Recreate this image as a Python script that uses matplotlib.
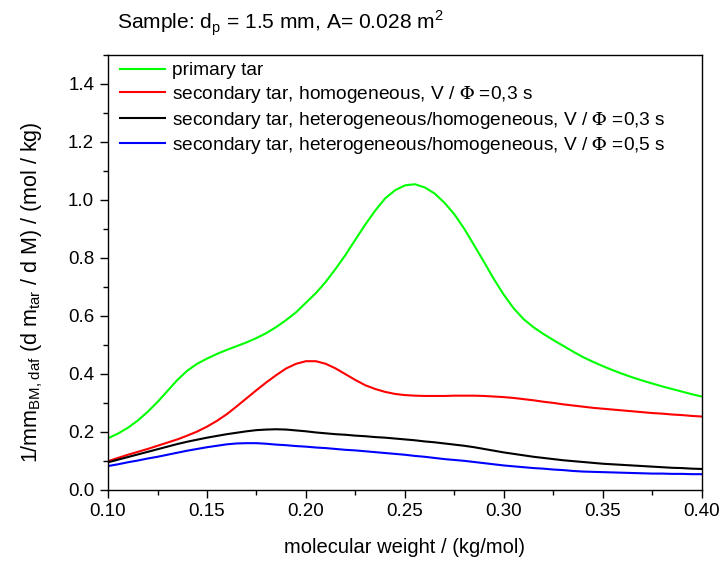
import matplotlib
matplotlib.use("Agg")
import matplotlib.pyplot as plt
from matplotlib.ticker import MultipleLocator, FormatStrFormatter
from matplotlib.font_manager import FontProperties

plt.rcParams['font.family'] = ['Liberation Sans', 'DejaVu Sans']
plt.rcParams['mathtext.fontset'] = 'custom'
plt.rcParams['mathtext.rm'] = 'Liberation Sans'

# molecular weight / (kg/mol)
mw = [0.100, 0.105, 0.110, 0.115, 0.120, 0.125, 0.130, 0.135, 0.140, 0.145,
      0.150, 0.155, 0.160, 0.165, 0.170, 0.175, 0.180, 0.185, 0.190, 0.195,
      0.200, 0.205, 0.210, 0.215, 0.220, 0.225, 0.230, 0.235, 0.240, 0.245,
      0.250, 0.255, 0.260, 0.265, 0.270, 0.275, 0.280, 0.285, 0.290, 0.295,
      0.300, 0.305, 0.310, 0.315, 0.320, 0.325, 0.330, 0.335, 0.340, 0.345,
      0.350, 0.355, 0.360, 0.365, 0.370, 0.375, 0.380, 0.385, 0.390, 0.395,
      0.400]

primary = [0.177, 0.193, 0.213, 0.238, 0.268, 0.302, 0.340, 0.378, 0.410, 0.434,
           0.452, 0.468, 0.482, 0.495, 0.508, 0.523, 0.540, 0.561, 0.585, 0.612,
           0.645, 0.678, 0.717, 0.762, 0.810, 0.863, 0.915, 0.963, 1.005, 1.033,
           1.050, 1.054, 1.043, 1.022, 0.990, 0.950, 0.900, 0.843, 0.785, 0.726,
           0.672, 0.625, 0.588, 0.560, 0.537, 0.516, 0.496, 0.476, 0.457, 0.441,
           0.426, 0.412, 0.399, 0.387, 0.376, 0.366, 0.356, 0.347, 0.338, 0.329,
           0.321]

sec_homog = [0.098, 0.109, 0.120, 0.130, 0.140, 0.151, 0.162, 0.173, 0.186, 0.200,
             0.217, 0.237, 0.260, 0.287, 0.315, 0.343, 0.370, 0.395, 0.418, 0.434,
             0.443, 0.443, 0.434, 0.418, 0.398, 0.378, 0.360, 0.347, 0.337, 0.330,
             0.326, 0.324, 0.323, 0.323, 0.323, 0.324, 0.324, 0.324, 0.323, 0.321,
             0.319, 0.316, 0.312, 0.308, 0.303, 0.299, 0.294, 0.290, 0.286, 0.282,
             0.279, 0.276, 0.273, 0.270, 0.267, 0.264, 0.262, 0.259, 0.257, 0.254,
             0.252]

sec_het_03 = [0.094, 0.103, 0.112, 0.121, 0.130, 0.139, 0.148, 0.157, 0.165, 0.172,
              0.179, 0.185, 0.191, 0.196, 0.201, 0.205, 0.207, 0.208, 0.207, 0.204,
              0.201, 0.197, 0.194, 0.191, 0.189, 0.186, 0.184, 0.181, 0.179, 0.176,
              0.173, 0.170, 0.166, 0.163, 0.159, 0.155, 0.151, 0.146, 0.140, 0.134,
              0.128, 0.123, 0.118, 0.113, 0.109, 0.105, 0.101, 0.098, 0.095, 0.092,
              0.089, 0.087, 0.085, 0.083, 0.081, 0.079, 0.077, 0.075, 0.074, 0.072,
              0.071]

sec_het_05 = [0.081, 0.087, 0.094, 0.100, 0.107, 0.113, 0.120, 0.127, 0.134, 0.140,
              0.146, 0.151, 0.156, 0.159, 0.160, 0.160, 0.158, 0.155, 0.153, 0.150,
              0.148, 0.145, 0.143, 0.140, 0.137, 0.135, 0.132, 0.129, 0.126, 0.123,
              0.120, 0.116, 0.113, 0.109, 0.105, 0.102, 0.099, 0.095, 0.091, 0.087,
              0.083, 0.080, 0.077, 0.074, 0.072, 0.069, 0.067, 0.064, 0.062, 0.061,
              0.060, 0.059, 0.058, 0.057, 0.056, 0.055, 0.055, 0.054, 0.054, 0.053,
              0.053]

labels = ['primary tar',
          r'secondary tar, homogeneous, V / $\Phi$ =0,3 s',
          r'secondary tar, heterogeneous/homogeneous, V / $\Phi$ =0,3 s',
          r'secondary tar, heterogeneous/homogeneous, V / $\Phi$ =0,5 s']
colors = ['#00ff00', '#ff0000', '#000000', '#0000ff']

fig = plt.figure(figsize=(7.25, 5.65), dpi=100)
ax = fig.add_axes([0.149, 0.1336, 0.819, 0.769])

for ys, lab, c in zip([primary, sec_homog, sec_het_03, sec_het_05], labels, colors):
    ax.plot(mw, ys, color=c, lw=1.5, label=lab)

ax.set_xlim(0.10, 0.40)
ax.set_ylim(0.0, 1.5)
ax.xaxis.set_major_locator(MultipleLocator(0.05))
ax.xaxis.set_minor_locator(MultipleLocator(0.025))
ax.yaxis.set_major_locator(MultipleLocator(0.2))
ax.yaxis.set_minor_locator(MultipleLocator(0.1))
ax.xaxis.set_major_formatter(FormatStrFormatter('%.2f'))
ax.yaxis.set_major_formatter(FormatStrFormatter('%.1f'))
ax.tick_params(which='major', direction='out', length=6, width=1, labelsize=13.5, pad=4)
ax.tick_params(which='minor', direction='out', length=3.5, width=1)
for s in ax.spines.values():
    s.set_linewidth(1.0)

ax.set_xlabel('molecular weight / (kg/mol)', fontsize=14.5, labelpad=13,
              family=['Liberation Sans Narrow', 'Liberation Sans'])
ax.set_ylabel(r'1/mm$_{\mathrm{BM,daf}}$ (d m$_{\mathrm{tar}}$ / d M) / (mol / kg)',
              fontsize=15.5)
ax.yaxis.set_label_coords(-0.106, 0.455)

leg_font = FontProperties(family='Liberation Sans', size=13.8, math_fontfamily='stix')
ax.legend(loc='upper left', bbox_to_anchor=(0.02, 0.984), frameon=False, prop=leg_font,
          handlelength=2.35, handletextpad=0.37, labelspacing=0.24,
          borderaxespad=0, borderpad=0)

fig.text(0.161, 0.958, r'Sample: d$_{\mathrm{p}}$ = 1.5 mm, A= 0.028 m$^{\mathrm{2}}$',
         fontsize=15.1, va='center', ha='left')

fig.savefig('out.png', dpi=100)
